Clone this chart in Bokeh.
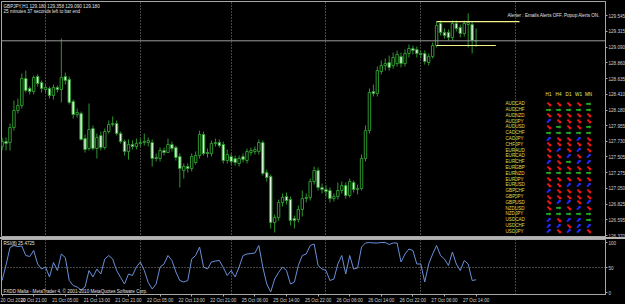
from bokeh.plotting import figure
from bokeh.models import (ColumnDataSource, Range1d, FixedTicker, Label, LabelSet,
                          Span, Div, PrintfTickFormatter)
from bokeh.layouts import column
from bokeh.embed import file_html
from bokeh.resources import INLINE
from bokeh.core.properties import value

# ---------------- data ----------------
opens = [127.655, 127.727, 127.712, 127.929, 128.174, 128.246, 128.636, 128.492, 128.448, 128.665,
         128.578, 128.477, 128.492, 128.391, 128.506, 128.477, 128.665, 128.621, 128.304, 128.116,
         128.131, 127.770, 127.626, 127.914, 127.626, 127.813, 127.640, 127.871, 127.972, 127.987,
         127.842, 127.727, 127.583, 127.684, 127.655, 127.698, 127.712, 127.712, 127.712, 127.496,
         127.482, 127.597, 127.568, 127.684, 127.640, 127.510, 127.308, 127.366, 127.337, 127.424,
         127.525, 127.828, 127.568, 127.554, 127.698, 127.712, 127.684, 127.453, 127.510, 127.482,
         127.409, 127.510, 127.453, 127.568, 127.583, 127.583, 127.712, 127.279, 127.222, 126.558,
         126.630, 126.847, 126.933, 126.890, 126.616, 126.601, 126.746, 126.904, 126.919, 127.150,
         127.308, 127.063, 127.034, 127.020, 126.904, 126.933, 127.020, 127.092, 126.948, 127.135,
         127.034, 127.049, 127.482, 127.885, 128.448, 128.419, 128.737, 128.823, 128.867, 128.823,
         128.852, 128.953, 128.852, 128.997, 129.069, 129.054, 128.997, 128.997, 128.867, 128.953,
         129.112, 129.430, 129.300, 129.300, 129.228, 129.430, 129.372, 129.285, 129.415, 129.415,
         129.180]
highs = [127.785, 127.785, 127.987, 128.318, 128.347, 128.708, 128.751, 128.520, 128.679, 128.694,
         128.607, 128.549, 128.520, 128.549, 128.535, 129.213, 128.722, 128.665, 128.333, 128.203,
         128.160, 127.828, 128.275, 127.958, 127.842, 127.871, 127.914, 128.030, 128.088, 128.030,
         127.871, 127.756, 127.756, 127.741, 127.770, 127.770, 127.842, 127.785, 127.756, 127.554,
         127.640, 127.640, 127.770, 127.727, 127.669, 127.554, 127.409, 127.409, 127.554, 127.583,
         127.885, 127.871, 127.626, 127.741, 127.770, 127.756, 127.727, 127.611, 127.554, 127.525,
         127.525, 127.554, 127.626, 127.640, 127.655, 127.756, 127.741, 127.323, 127.251, 126.673,
         126.890, 126.976, 126.991, 126.933, 126.659, 126.803, 127.020, 126.976, 127.193, 127.366,
         127.352, 127.121, 127.092, 127.063, 126.976, 127.135, 127.150, 127.135, 127.193, 127.164,
         127.106, 127.539, 127.958, 128.492, 128.549, 128.809, 128.896, 128.925, 128.968, 129.011,
         129.040, 129.011, 129.054, 129.127, 129.112, 129.098, 129.040, 129.040, 128.997, 129.155,
         129.458, 129.473, 129.357, 129.343, 129.473, 129.473, 129.415, 129.473, 129.574, 129.458,
         129.358]
lows = [127.597, 127.597, 127.597, 127.886, 128.131, 128.203, 128.434, 128.405, 128.405, 128.520,
        128.434, 128.434, 128.347, 128.333, 128.434, 128.290, 128.549, 128.261, 128.059, 128.073,
        127.741, 127.568, 127.597, 127.597, 127.482, 127.597, 127.611, 127.842, 127.943, 127.813,
        127.698, 127.525, 127.467, 127.611, 127.611, 127.655, 127.669, 127.655, 127.366, 127.438,
        127.438, 127.525, 127.568, 127.583, 127.453, 127.063, 127.193, 127.279, 127.294, 127.395,
        127.482, 127.525, 127.496, 127.510, 127.655, 127.640, 127.409, 127.409, 127.395, 127.380,
        127.366, 127.424, 127.409, 127.525, 127.539, 127.539, 127.236, 127.150, 126.471, 126.414,
        126.587, 126.789, 126.818, 126.515, 126.471, 126.558, 126.645, 126.847, 126.875, 127.106,
        127.020, 126.976, 126.933, 126.847, 126.861, 126.890, 126.976, 126.904, 126.919, 126.991,
        126.962, 127.020, 127.438, 127.842, 128.376, 128.376, 128.694, 128.751, 128.751, 128.780,
        128.809, 128.795, 128.809, 128.939, 128.982, 128.939, 128.925, 128.838, 128.823, 128.925,
        129.083, 129.256, 129.213, 129.184, 129.184, 129.314, 129.228, 129.242, 129.083, 128.997,
        129.090]
closes = [127.727, 127.698, 127.929, 128.174, 128.246, 128.636, 128.463, 128.448, 128.650, 128.564,
          128.492, 128.506, 128.391, 128.506, 128.477, 128.650, 128.607, 128.290, 128.116, 128.145,
          127.756, 127.611, 127.900, 127.626, 127.785, 127.640, 127.871, 127.972, 127.987, 127.842,
          127.727, 127.583, 127.684, 127.655, 127.698, 127.712, 127.727, 127.741, 127.482, 127.482,
          127.597, 127.568, 127.684, 127.626, 127.496, 127.337, 127.366, 127.337, 127.510, 127.525,
          127.828, 127.554, 127.554, 127.698, 127.712, 127.669, 127.453, 127.539, 127.438, 127.424,
          127.482, 127.467, 127.583, 127.597, 127.611, 127.712, 127.265, 127.207, 126.558, 126.630,
          126.847, 126.919, 126.875, 126.587, 126.587, 126.746, 126.904, 126.919, 127.150, 127.308,
          127.063, 127.034, 127.005, 126.904, 126.933, 127.020, 127.092, 126.948, 127.150, 127.034,
          127.049, 127.482, 127.885, 128.434, 128.419, 128.751, 128.823, 128.852, 128.795, 128.939,
          128.982, 128.852, 128.997, 129.069, 129.040, 128.997, 128.982, 128.881, 128.953, 129.112,
          129.401, 129.300, 129.256, 129.228, 129.430, 129.357, 129.285, 129.430, 129.444, 129.184,
          129.180]
rsi = [24, 55, 90, 94, 92, 93, 74, 72, 84, 57,
       47, 51, 31, 60, 44, 77, 70, 24, 14, 11,
       5, 11, 44, 31, 47, 37, 67, 74, 67, 44,
       30, 17, 37, 34, 51, 61, 44, 20, 7, 17,
       51, 57, 74, 64, 41, 24, 21, 24, 67, 74,
       91, 51, 47, 61, 63, 64, 50, 34, 44, 31,
       51, 74, 77, 78, 79, 94, 51, 17, 1, 27,
       40, 51, 44, 17, 21, 54, 74, 77, 94, 97,
       54, 47, 44, 24, 27, 57, 74, 37, 74, 47,
       49, 91, 99, 100, 99, 99, 100, 100, 96, 99,
       99, 61, 77, 87, 84, 57, 57, 21, 57, 77,
       94, 74, 67, 54, 81, 57, 44, 64, 57, 24,
       25.47]

time_tick_bars = [0, 8, 16, 24, 32, 40, 48, 56, 64, 72, 80, 88, 96, 104, 112, 120]
time_tick_labels = ["20 Oct 2010", "20 Oct 21:00", "21 Oct 05:00", "21 Oct 13:00",
                    "21 Oct 21:00", "22 Oct 05:00", "22 Oct 13:00", "22 Oct 21:00",
                    "25 Oct 06:00", "25 Oct 14:00", "25 Oct 22:00", "26 Oct 06:00",
                    "26 Oct 14:00", "26 Oct 22:00", "27 Oct 06:00", "27 Oct 14:00"]
day_start_bars = [11, 35, 58, 82, 106, 130]
price_ticks = [129.545, 129.315, 129.090, 128.860, 128.635, 128.410, 128.180, 127.955,
               127.730, 127.505, 127.275, 127.050, 126.825, 126.595, 126.370]
rsi_ticks = [0, 50, 100]
bid_price = 129.180
box_high, box_low = 129.458, 129.112
box_start_bar, box_high_end_bar, box_low_end_bar = 110, 131, 125

header_text = "GBPJPY,H1  129.180 129.358 129.090 129.180"
timer_text = "25 minutes 37 seconds left to bar end"
alert_text = "Alerter : Emails Alerts OFF.   Popup Alerts ON."
rsi_text = "RSI(8) 25.4725"
copyright_text = "FXDD Malta - MetaTrader 4, \u00a9 2001-2010 MetaQuotes Software Corp."

timeframes = ["H1", "H4", "D1", "W1", "MN"]
symbols = ["AUDCAD", "AUDCHF", "AUDNZD", "AUDJPY", "AUDUSD", "CADCHF", "CADJPY", "CHFJPY",
           "EURAUD", "EURCAD", "EURCHF", "EURGBP", "EURNZD", "EURJPY", "EURUSD", "GBPCHF",
           "GBPJPY", "GBPUSD", "NZDUSD", "NZDJPY", "USDCAD", "USDCHF", "USDJPY"]
signals = ["RRRRG", "GGGGG", "RRRRR", "BRRRR", "RGRRG", "GGGGG", "BRRBR", "RRRRR",
           "RBRBR", "RRBRB", "BRGBB", "RRRRR", "GGGGG", "RRRRR", "RRBBB", "BRRRR",
           "RRRRR", "RBBRB", "RGRBR", "GGGGG", "BRBBG", "BBRBB", "BRBBR"]

# ---------------- style ----------------
WICK = "#2e952e"
BEAR_FILL = "#dcf5dc"
GRID = "#8a8a8a"
FRAME = "#a8a8a8"
TXT = "#e0e0e0"
FONT = "Liberation Sans"
FS = "4.6px"
FRAME_W = 604
MAIN_H = 236
RSI_H = 55
PX_PER_BAR = 3.95
x_start = -0.15
x_end = x_start + FRAME_W / PX_PER_BAR

bars = list(range(len(opens)))
xr = Range1d(x_start, x_end)

common = dict(frame_width=FRAME_W, x_range=xr, output_backend="svg", toolbar_location=None,
              y_axis_location="right", min_border_left=1, min_border_right=20,
              background_fill_color="black", border_fill_color="black",
              outline_line_color=FRAME)

main = figure(frame_height=MAIN_H, y_range=Range1d(126.342, 129.747), x_axis_location=None,
              min_border_top=1, min_border_bottom=0, **common)

# grid: period separators only
main.xgrid.ticker = FixedTicker(ticks=day_start_bars)
main.xgrid.grid_line_color = GRID
main.xgrid.grid_line_dash = "1 2"
main.ygrid.visible = False

ya = main.yaxis[0]
ya.ticker = FixedTicker(ticks=price_ticks)
ya.formatter = PrintfTickFormatter(format="%.3f")
ya.major_label_text_font = FONT
ya.major_label_text_font_size = FS
ya.major_label_text_color = "#d0d0d0"
ya.axis_line_color = FRAME
ya.major_tick_line_color = FRAME
ya.major_tick_out = 2
ya.major_tick_in = 0
ya.major_label_standoff = 1
ya.minor_tick_line_color = None

# candles
src = ColumnDataSource(dict(
    x=bars, o=opens, h=highs, l=lows, c=closes,
    top=[max(o, c) for o, c in zip(opens, closes)],
    bottom=[min(o, c) for o, c in zip(opens, closes)],
    fill=["black" if c >= o else BEAR_FILL for o, c in zip(opens, closes)],
))
main.segment(x0="x", y0="h", x1="x", y1="l", line_color=WICK, line_width=1, source=src)
main.vbar(x="x", width=0.62, top="top", bottom="bottom", fill_color="fill",
          line_color=WICK, line_width=1, source=src)

# bid line
main.add_layout(Span(location=bid_price, dimension="width", line_color="#9a9a9a", line_width=1))

# yellow range lines
main.segment(x0=[box_start_bar, box_start_bar], y0=[box_high, box_low],
             x1=[box_high_end_bar, box_low_end_bar], y1=[box_high, box_low],
             line_color="#f4f48a", line_width=1.2)

# bid price label on the axis
main.add_layout(Label(x=FRAME_W + 1, y=bid_price, x_units="screen", y_units="data",
                      text=f"{bid_price:.3f}", text_font=FONT, text_font_size=FS,
                      text_color="black", text_baseline="middle", text_align="left",
                      background_fill_color="#d8d8d8", padding=0))

# header texts (screen units: from frame left / frame bottom)
main.add_layout(Label(x=2, y=MAIN_H - 5, x_units="screen", y_units="screen", text=header_text,
                      text_font=FONT, text_font_size=FS, text_color=TXT, text_baseline="middle"))
main.add_layout(Label(x=2, y=MAIN_H - 10, x_units="screen", y_units="screen", text=timer_text,
                      text_font=FONT, text_font_size=FS, text_color=TXT, text_baseline="middle"))
main.add_layout(Label(x=FRAME_W - 3, y=MAIN_H - 14, x_units="screen", y_units="screen",
                      text=alert_text, text_font=FONT, text_font_size=FS, text_color=TXT,
                      text_baseline="middle", text_align="right"))

# signal table
col_x0, col_dx = 547, 10
hdr_y = MAIN_H + 1 - 94
row_y0, row_dy = MAIN_H + 1 - 103.2, 5.8
hdr_src = ColumnDataSource(dict(x=[col_x0 + i * col_dx for i in range(len(timeframes))],
                                y=[hdr_y] * len(timeframes), t=timeframes))
main.add_layout(LabelSet(x="x", y="y", text="t", source=hdr_src, x_units="screen", y_units="screen",
                         text_font=value(FONT), text_font_size=value(FS), text_color="#f0f060",
                         text_align="center", text_baseline="middle"))
sym_src = ColumnDataSource(dict(x=[504] * len(symbols),
                                y=[row_y0 - i * row_dy for i in range(len(symbols))], t=symbols))
main.add_layout(LabelSet(x="x", y="y", text="t", source=sym_src, x_units="screen", y_units="screen",
                         text_font=value(FONT), text_font_size=value(FS), text_color="#e6d84a",
                         text_align="left", text_baseline="middle"))
arrow_glyph = {"R": "\u2b0a", "G": "\u27a1", "B": "\u2b08"}
arrow_color = {"R": "#f01818", "G": "#22a822", "B": "#2a2aff"}
ax, ay, at, ac = [], [], [], []
for i, sig in enumerate(signals):
    for j, s in enumerate(sig):
        ax.append(col_x0 + j * col_dx)
        ay.append(row_y0 - i * row_dy)
        at.append(arrow_glyph[s])
        ac.append(arrow_color[s])
arr_src = ColumnDataSource(dict(x=ax, y=ay, t=at, c=ac))
main.add_layout(LabelSet(x="x", y="y", text="t", source=arr_src, x_units="screen", y_units="screen",
                         text_font=value("DejaVu Sans"), text_font_size=value("6.8px"),
                         text_font_style="bold", text_color="c",
                         text_align="center", text_baseline="middle"))

# ---------------- RSI panel ----------------
rp = figure(frame_height=RSI_H, y_range=Range1d(-4, 106), min_border_top=0, min_border_bottom=0,
            **common)
rp.xgrid.ticker = FixedTicker(ticks=day_start_bars)
rp.xgrid.grid_line_color = GRID
rp.xgrid.grid_line_dash = "1 2"
rp.ygrid.visible = False
rp.add_layout(Span(location=50, dimension="width", line_color=GRID, line_dash="1 2", line_width=1))
rp.line(bars, rsi, line_color="#6a8fd8", line_width=1)

ry = rp.yaxis[0]
ry.ticker = FixedTicker(ticks=rsi_ticks)
ry.major_label_text_font = FONT
ry.major_label_text_font_size = FS
ry.major_label_text_color = "#d0d0d0"
ry.axis_line_color = FRAME
ry.major_tick_line_color = FRAME
ry.major_tick_out = 2
ry.major_tick_in = 0
ry.major_label_standoff = 1
ry.minor_tick_line_color = None

rx = rp.xaxis[0]
rx.ticker = FixedTicker(ticks=time_tick_bars)
rx.major_label_overrides = {b: t for b, t in zip(time_tick_bars, time_tick_labels)}
rx.major_label_text_font = FONT
rx.major_label_text_font_size = FS
rx.major_label_text_color = "#d0d0d0"
rx.major_label_text_align = "left"
rx.axis_line_color = FRAME
rx.major_tick_line_color = FRAME
rx.major_tick_out = 2
rx.major_tick_in = 0
rx.major_label_standoff = 1
rx.minor_tick_line_color = None

rp.add_layout(Label(x=2, y=RSI_H - 4, x_units="screen", y_units="screen", text=rsi_text,
                    text_font=FONT, text_font_size=FS, text_color=TXT, text_baseline="middle"))
rp.add_layout(Label(x=2, y=3, x_units="screen", y_units="screen", text=copyright_text,
                    text_font=FONT, text_font_size=FS, text_color=TXT, text_baseline="middle"))

sep = Div(width=625, height=2, styles={"background-color": "#b4b4b4"}, margin=0)

layout = column(main, sep, rp, spacing=0, styles={"background-color": "black"})
open("out.html", "w").write(file_html(layout, INLINE))
